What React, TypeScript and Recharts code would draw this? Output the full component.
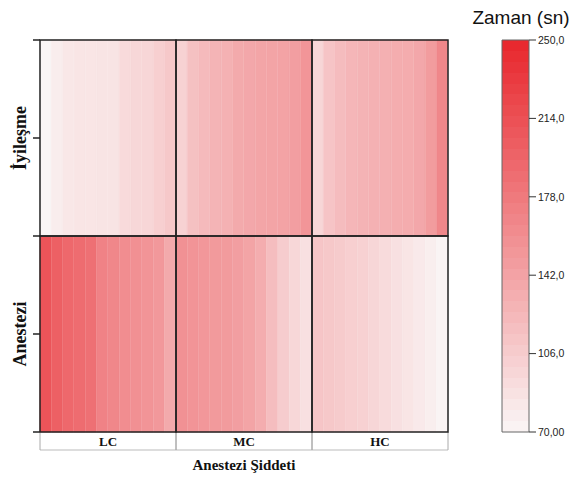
import React from 'react';
import { ComposedChart, BarChart, Bar, Cell, XAxis, YAxis, ReferenceArea } from 'recharts';

// Categories
const columns = ['LC', 'MC', 'HC'];
const rowLabels = ['Anestezi', 'İyileşme'];
const xTitle = 'Anestezi Şiddeti';
const colorTitle = 'Zaman (sn)';

// Stripe values (Zaman, sn) per cell, left to right
const iyilesmeLC = [70, 78, 83, 85, 85, 86, 86, 94, 97, 98, 104, 110];
const iyilesmeMC = [101, 116, 122, 127, 130, 136, 138, 140, 141, 142, 146, 154];
const iyilesmeHC = [98, 113, 120, 125, 128, 130, 131, 133, 134, 138, 148, 166];
const anesteziLC = [210, 200, 193, 189, 186, 170, 166, 161, 158, 155, 151, 136];
const anesteziMC = [157, 155, 152, 150, 149, 146, 141, 133, 119, 106, 97, 89];
const anesteziHC = [112, 110, 107, 104, 102, 98, 93, 89, 85, 81, 77, 72];

// Colour scale
const colorMin = 70;
const colorMax = 250;
const colorTicks = [70, 106, 142, 178, 214, 250];
const colorTickLabels = ['70,00', '106,0', '142,0', '178,0', '214,0', '250,0'];

const LOW = [250, 246, 246];
const HIGH = [232, 38, 44];
const colorOf = (v: number) => {
  const t = Math.max(0, Math.min(1, (v - colorMin) / (colorMax - colorMin)));
  const c = LOW.map((l, i) => Math.round(l + (HIGH[i] - l) * t));
  return `rgb(${c[0]},${c[1]},${c[2]})`;
};

const perCol = iyilesmeLC.length;
const iyilesme = [...iyilesmeLC, ...iyilesmeMC, ...iyilesmeHC];
const anestezi = [...anesteziLC, ...anesteziMC, ...anesteziHC];
const stripes = iyilesme.map((v, k) => ({
  idx: k, col: columns[Math.floor(k / perCol)], a: 1, i: 1, av: anestezi[k], iv: v,
}));

const colorData = [{ name: 'z', range: [colorMin, colorMax] }];
const BANDS = 36;
const bandStops: { off: number; col: string }[] = [];
for (let b = 0; b < BANDS; b++) {
  const v = colorMax - ((b + 0.5) / BANDS) * (colorMax - colorMin);
  bandStops.push({ off: b / BANDS, col: colorOf(v) });
  bandStops.push({ off: (b + 1) / BANDS, col: colorOf(v) });
}

const serif = '"Liberation Serif", "Times New Roman", serif';
const sans = '"Liberation Sans", Arial, sans-serif';

const YTick = (props: any) => {
  const { x, y, payload } = props;
  const v = payload.value;
  if (v === 0.5 || v === 1.5) {
    const label = rowLabels[Math.floor(v)];
    const cx = x - 11;
    return (
      <text x={cx} y={y} transform={`rotate(-90 ${cx} ${y})`} textAnchor="middle" dominantBaseline="central"
        fontFamily={serif} fontWeight="bold" fontSize={18} fill="#111">{label}</text>
    );
  }
  return <g />;
};

const XTick = (props: any) => {
  const { x, y, payload } = props;
  const half = payload.offset || 0;
  return (
    <g>
      <line x1={x - half} y1={y} x2={x - half} y2={y + 18} stroke="#aaa" strokeWidth={1} />
      <line x1={x + half} y1={y} x2={x + half} y2={y + 18} stroke="#aaa" strokeWidth={1} />
      <text x={x} y={y + 14} textAnchor="middle" fontFamily={serif} fontWeight="bold" fontSize={13} fill="#111">
        {payload.value}
      </text>
    </g>
  );
};

const chartW = 470;
const chartH = 477;
const chartMargin = { top: 40, right: 22, left: 0, bottom: 0 };

export default function App() {
  return (
    <div style={{ position: 'absolute', left: 0, top: 0, width: 578, height: 477, background: '#fff' }}>
      <svg width={0} height={0} style={{ position: 'absolute' }}>
        <defs>
          <linearGradient id="zgrad" x1="0" y1="0" x2="0" y2="1">
            {bandStops.map((s, k) => (
              <stop key={k} offset={s.off} stopColor={s.col} />
            ))}
          </linearGradient>
        </defs>
      </svg>
      <div style={{ position: 'absolute', left: 0, top: 0 }}>
        <ComposedChart width={chartW} height={chartH} data={stripes} margin={chartMargin}
          barCategoryGap={0} barGap={0}>
          <XAxis xAxisId="ax1ticks" dataKey="col" type="category" allowDuplicatedCategory={false} height={18}
            axisLine={false} tickLine={false} tickSize={0} tickMargin={0} tick={<XTick />} interval={0} />
          <XAxis xAxisId="ax2box" dataKey="col" type="category" allowDuplicatedCategory={false} height={27}
            tick={false} tickLine={false} axisLine={{ stroke: '#bbb' }}
            label={{ value: xTitle, position: 'insideBottom', offset: 7, style: { fontFamily: serif, fontWeight: 'bold', fontSize: 15, fill: '#111' } }} />
          <XAxis xAxisId="ax3cat" dataKey="idx" type="category" hide />
          <YAxis type="number" domain={[0, 2]} ticks={[0, 0.5, 1, 1.5, 2]} width={40} axisLine={false}
            tickLine={{ stroke: '#222', strokeWidth: 1.5 }} tickSize={7} tickMargin={2} tick={<YTick />} interval={0} />
          <Bar xAxisId="ax3cat" dataKey="a" stackId="s" isAnimationActive={false}>
            {stripes.map((d, k) => (
              <Cell key={k} fill={colorOf(d.av)} stroke={colorOf(d.av)} strokeWidth={0.6} />
            ))}
          </Bar>
          <Bar xAxisId="ax3cat" dataKey="i" stackId="s" isAnimationActive={false}>
            {stripes.map((d, k) => (
              <Cell key={k} fill={colorOf(d.iv)} stroke={colorOf(d.iv)} strokeWidth={0.6} />
            ))}
          </Bar>
        </ComposedChart>
      </div>
      {/* cell borders drawn on top with the same scales */}
      <div style={{ position: 'absolute', left: 0, top: 0, pointerEvents: 'none' }}>
        <ComposedChart width={chartW} height={chartH} data={stripes} margin={chartMargin}
          barCategoryGap={0} barGap={0}>
          <XAxis xAxisId="ax1ticks" dataKey="col" type="category" allowDuplicatedCategory={false} height={18}
            axisLine={false} tickLine={false} tick={false} />
          <XAxis xAxisId="ax2box" dataKey="col" type="category" allowDuplicatedCategory={false} height={27}
            axisLine={false} tickLine={false} tick={false} />
          <XAxis xAxisId="ax3cat" dataKey="idx" type="category" hide />
          <YAxis type="number" domain={[0, 2]} width={40} axisLine={false} tickLine={false} tick={false} />
          <Bar xAxisId="ax3cat" dataKey="a" stackId="s" fill="none" fillOpacity={0} isAnimationActive={false} />
          <Bar xAxisId="ax3cat" dataKey="i" stackId="s" fill="none" fillOpacity={0} isAnimationActive={false} />
          {columns.map((c, ci) =>
            rowLabels.map((r, ri) => (
              <ReferenceArea key={c + r} xAxisId="ax3cat" x1={ci * perCol} x2={ci * perCol + perCol - 1}
                y1={ri} y2={ri + 1} fill="none" fillOpacity={0} stroke="#222" strokeWidth={1.5} strokeOpacity={1}
                ifOverflow="visible" />
            ))
          )}
        </ComposedChart>
      </div>
      <div style={{ position: 'absolute', left: 452, top: 7, width: 138, textAlign: 'center', fontFamily: sans, fontSize: 19, color: '#111' }}>
        {colorTitle}
      </div>
      <div style={{ position: 'absolute', left: 490, top: 0 }}>
        <BarChart width={88} height={477} data={colorData} margin={{ top: 40, right: 0, left: 12, bottom: 45 }}
          barCategoryGap={0}>
          <XAxis dataKey="name" hide />
          <YAxis orientation="right" type="number" domain={[colorMin, colorMax]} ticks={colorTicks} width={49}
            axisLine={false} tickLine={{ stroke: '#333' }} tickSize={7} tickMargin={2} interval={0}
            tickFormatter={(v: number) => colorTickLabels[colorTicks.indexOf(v)]}
            tick={{ fontFamily: sans, fontSize: 10.5, fill: '#222' }} />
          <Bar dataKey="range" fill="url(#zgrad)" stroke="#666" strokeWidth={1} isAnimationActive={false} />
        </BarChart>
      </div>
    </div>
  );
}
